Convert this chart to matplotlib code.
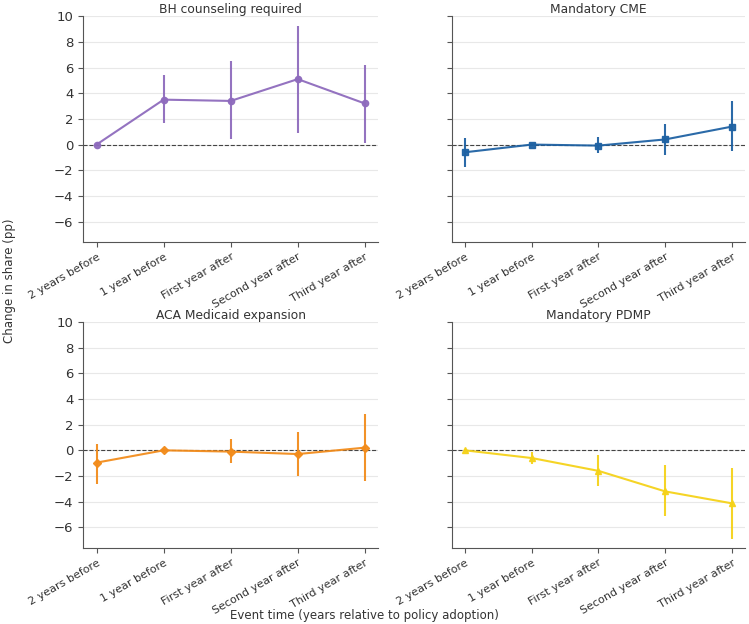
import matplotlib
matplotlib.use('Agg')
import matplotlib.pyplot as plt

# event-time categories
periods = ['2 years before', '1 year before', 'First year after', 'Second year after', 'Third year after']

# point estimates and confidence bounds (pp)
bh_est = [0.0, 3.5, 3.4, 5.1, 3.2]
bh_lo = [0.0, 1.7, 0.4, 0.9, 0.1]
bh_hi = [0.0, 5.4, 6.5, 9.2, 6.2]

cme_est = [-0.6, 0.0, -0.08, 0.4, 1.4]
cme_lo = [-1.76, 0.0, -0.67, -0.78, -0.47]
cme_hi = [0.52, 0.0, 0.59, 1.6, 3.4]

aca_est = [-0.96, 0.0, -0.1, -0.29, 0.21]
aca_lo = [-2.6, -0.1, -0.99, -1.97, -2.39]
aca_hi = [0.49, 0.1, 0.88, 1.4, 2.8]

pdmp_est = [0.0, -0.6, -1.6, -3.2, -4.13]
pdmp_lo = [0.0, -1.03, -2.79, -5.12, -6.87]
pdmp_hi = [0.0, -0.15, -0.39, -1.16, -1.4]

panels = [
    ('BH counseling required', bh_est, bh_lo, bh_hi, '#8e6bbd', 'o'),
    ('Mandatory CME', cme_est, cme_lo, cme_hi, '#1f62a3', 's'),
    ('ACA Medicaid expansion', aca_est, aca_lo, aca_hi, '#f28c1c', 'D'),
    ('Mandatory PDMP', pdmp_est, pdmp_lo, pdmp_hi, '#f5d21a', '^'),
]

txt = '#333333'
fig = plt.figure(figsize=(7.49, 6.24), dpi=100)
boxes = [
    [0.111, 0.612, 0.394, 0.362],
    [0.603, 0.612, 0.392, 0.362],
    [0.111, 0.122, 0.394, 0.362],
    [0.603, 0.122, 0.392, 0.362],
]

x = list(range(len(periods)))
for i, (title, est, lo, hi, col, mk) in enumerate(panels):
    ax = fig.add_axes(boxes[i])
    yerr = [[e - l for e, l in zip(est, lo)], [h - e for e, h in zip(est, hi)]]
    ax.errorbar(x, est, yerr=yerr, color=col, marker=mk, markersize=4.5,
                linewidth=1.5, elinewidth=1.5, capsize=0, alpha=0.95, zorder=3)
    ax.axhline(0, color='#444444', linestyle='--', linewidth=0.8, zorder=2)
    ax.set_ylim(-7.6, 10)
    ax.set_yticks([-6, -4, -2, 0, 2, 4, 6, 8, 10])
    ax.grid(axis='y', color='#e8e8e8', linewidth=0.8, zorder=0)
    ax.set_axisbelow(True)
    ax.set_xticks(x)
    ax.set_xticklabels(periods, rotation=30, ha='right', rotation_mode='anchor', fontsize=8, color=txt)
    ax.set_title(title, fontsize=8.8, color=txt, pad=2)
    for s in ['top', 'right']:
        ax.spines[s].set_visible(False)
    for s in ['left', 'bottom']:
        ax.spines[s].set_color('#555555')
    ax.tick_params(axis='y', colors='#555555', labelcolor=txt, labelsize=9.5)
    ax.tick_params(axis='x', colors='#555555', labelcolor=txt, labelsize=8)
    if i % 2 == 1:
        ax.tick_params(labelleft=False)

fig.text(0.004, 0.55, 'Change in share (pp)', rotation=90, va='center', ha='left', fontsize=8.5, color=txt)
fig.text(0.486, 0.004, 'Event time (years relative to policy adoption)', ha='center', va='bottom', fontsize=8.5, color=txt)

fig.savefig('out.png', dpi=100)
